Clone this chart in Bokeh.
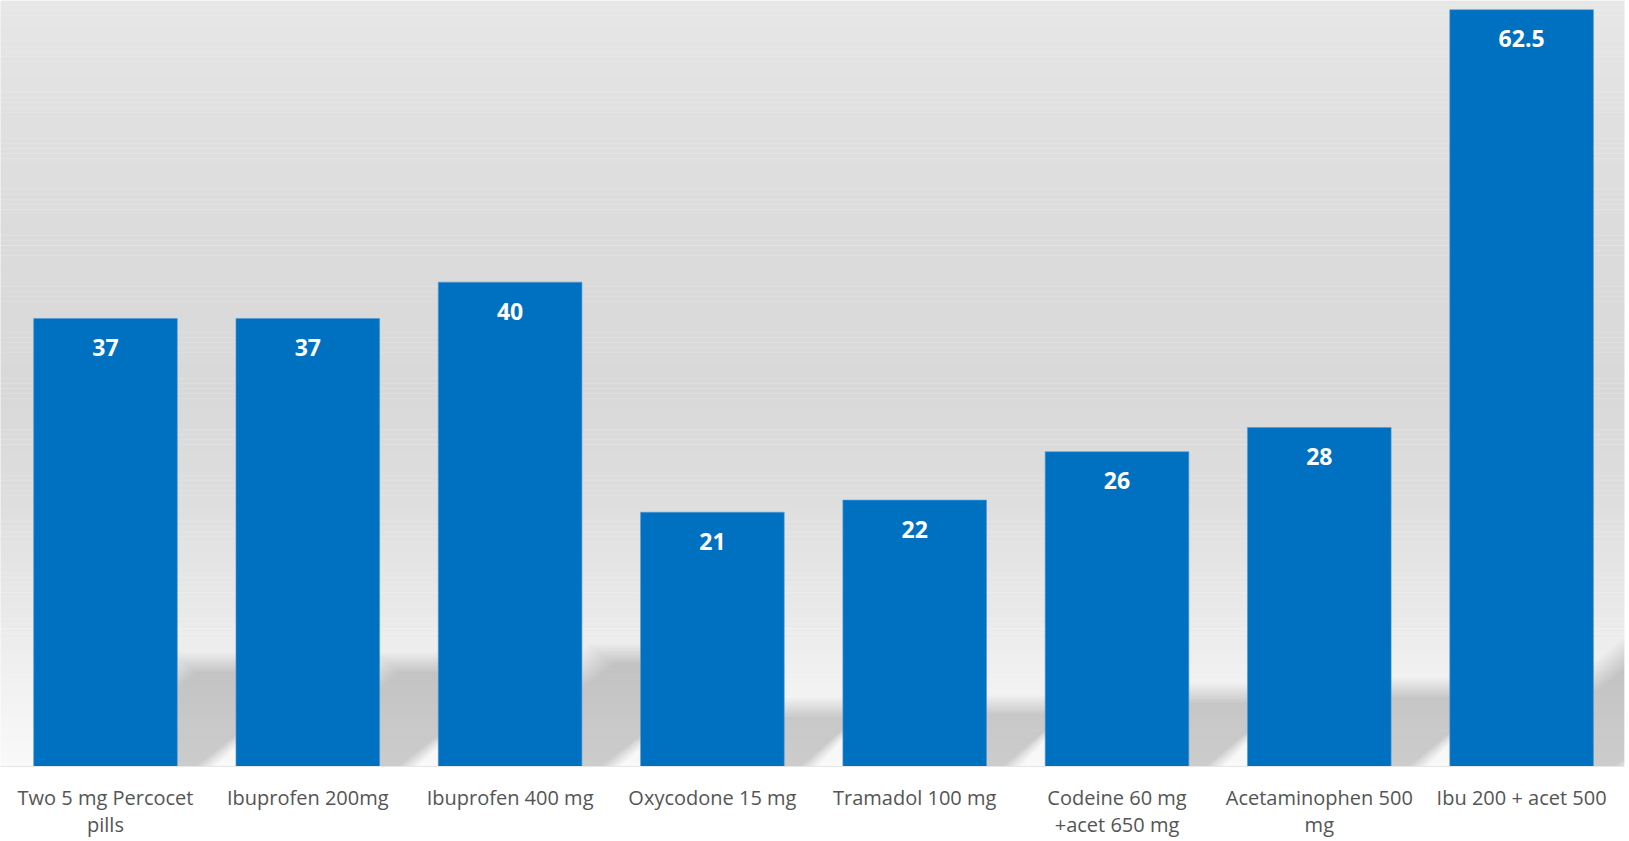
import numpy as np
from bokeh.plotting import figure
from bokeh.models import ColumnDataSource, FixedTicker, Range1d
from bokeh.core.properties import value
from bokeh.embed import file_html
from bokeh.resources import INLINE

# ---- data ----
categories = ["Two 5 mg Percocet\npills", "Ibuprofen 200mg", "Ibuprofen 400 mg",
              "Oxycodone 15 mg", "Tramadol 100 mg", "Codeine 60 mg\n+acet 650 mg",
              "Acetaminophen 500\nmg", "Ibu 200 + acet 500"]
values = [37, 37, 40, 21, 22, 26, 28, 62.5]
value_labels = ["37", "37", "40", "21", "22", "26", "28", "62.5"]

# ---- layout constants ----
W, H = 1629, 841
BORDER_R = 5
FRAME_H = 768
AXIS_H = H - FRAME_H
STEP_PX = 202.3
PX_PER_UNIT = 12.14
x_start = -105.0 / STEP_PX
x_end = x_start + (W - BORDER_R) / STEP_PX
y_end = FRAME_H / PX_PER_UNIT
BAR_W = 0.71

p = figure(width=W, height=H, output_backend="svg", toolbar_location=None,
           x_range=Range1d(x_start, x_end), y_range=Range1d(0, y_end),
           y_axis_location=None, min_border=0, min_border_left=0,
           min_border_right=BORDER_R, min_border_top=0, min_border_bottom=AXIS_H)
p.outline_line_color = None
p.grid.visible = False
p.background_fill_color = "white"
p.border_fill_color = "white"

# ---- background gradient (pixel-from-top stops -> grey level) ----
stop_px = np.array([0, 100, 250, 400, 500, 600, 680, 768])
stop_lv = np.array([231, 225, 219, 217, 222, 232, 241, 249])
n_strips = 150
edges = np.linspace(0, y_end, n_strips + 1)
mids_px = FRAME_H - (edges[:-1] + edges[1:]) / 2 * PX_PER_UNIT
lv = np.interp(mids_px, stop_px, stop_lv).round().astype(int)
cols = ["#%02x%02x%02x" % (g, g, g) for g in lv]
p.quad(left=x_start - 1, right=x_end + 1, bottom=edges[:-1], top=edges[1:] + 0.02,
       fill_color=cols, line_color=None)

# ---- soft floor shadows ----
sh_ratio = 0.233
skew = 1.44 * PX_PER_UNIT / STEP_PX
layers = np.linspace(-10, 10, 15)
alpha = 0.0125
for d in layers:
    xs, ys = [], []
    for i, v in enumerate(values):
        hh = sh_ratio * v
        dx = hh * skew
        ex = d * 1.2 / STEP_PX
        ey = d / PX_PER_UNIT
        xl = i - BAR_W / 2 - ex
        xr = i + BAR_W / 2 + ex
        top = hh + ey
        xs.append([xl, xr, xr + dx, xl + dx])
        ys.append([-2, -2, top, top])
    p.patches(xs, ys, fill_color="black", fill_alpha=alpha, line_color=None)

# ---- bars ----
src = ColumnDataSource(dict(x=list(range(len(values))), top=values, lab=value_labels))
p.vbar(x="x", top="top", bottom=0, width=BAR_W, source=src,
       fill_color="#0070C0", line_color="#4f9ad8", line_width=1, line_alpha=0.6)

p.text(x="x", y="top", text="lab", source=src, y_offset=29,
       text_align="center", text_baseline="middle",
       text_font=value("Open Sans"), text_font_style="bold",
       text_font_size="23px", text_color="white")

# ---- axis ----
ax = p.xaxis[0]
ax.ticker = FixedTicker(ticks=list(range(len(categories))))
ax.major_label_overrides = {i: c for i, c in enumerate(categories)}
ax.major_tick_in = 0
ax.major_tick_out = 0
ax.minor_tick_in = 0
ax.minor_tick_out = 0
ax.axis_line_color = "#e6e6e6"
ax.major_label_standoff = 17
ax.major_label_text_font = "Open Sans"
ax.major_label_text_font_size = "20px"
ax.major_label_text_color = "#555555"
ax.major_label_text_line_height = 1.02

open("out.html", "w").write(file_html(p, INLINE))
